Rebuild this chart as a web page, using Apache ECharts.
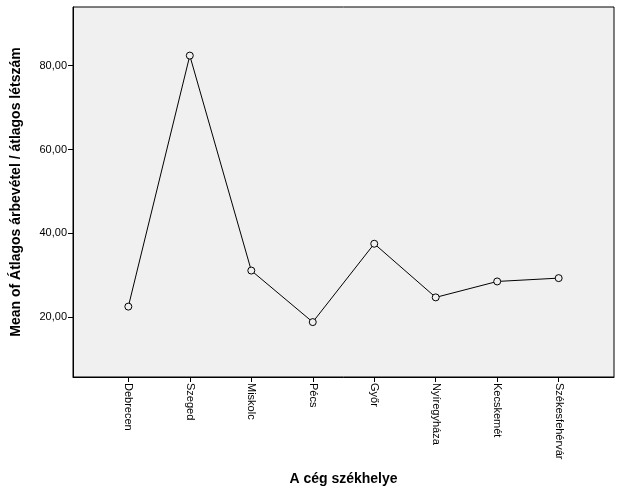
<!DOCTYPE html>
<html><head><meta charset="utf-8">
<script src="https://cdn.jsdelivr.net/npm/echarts@6/dist/echarts.min.js"></script>
<style>html,body{margin:0;padding:0;background:#fff}#c{width:626px;height:501px}</style>
</head><body><div id="c"></div>
<script>
const categories = ["Debrecen","Szeged","Miskolc","Pécs","Győr","Nyíregyháza","Kecskemét","Székesfehérvár"];
const values = [22.5, 82.4, 31.1, 18.8, 37.5, 24.7, 28.5, 29.3];
const yTicks = [20, 40, 60, 80];
const idx = categories.map((c,i)=>i);
const chart = echarts.init(document.getElementById('c'));
const font = 'Liberation Sans, Arial, sans-serif';
chart.setOption({
  animation:false,
  grid:{left:73,right:12,top:7,bottom:124,show:true,backgroundColor:'#f0f0f0',borderColor:'#000',borderWidth:1},
  xAxis:{type:'value',min:-0.9,max:7.9,
    name:'A cég székhelye',nameLocation:'middle',nameGap:95,
    nameTextStyle:{fontFamily:font,fontSize:14,fontWeight:'bold',color:'#000'},
    axisLine:{show:true,onZero:false,lineStyle:{color:'#000'}},
    axisTick:{show:true,inside:false,length:5,customValues:idx,lineStyle:{color:'#000'}},
    splitLine:{show:false},
    axisLabel:{customValues:idx,rotate:-90,margin:6,fontFamily:font,fontSize:11,color:'#000',
      formatter:v=>categories[Math.round(v)]}
  },
  yAxis:{type:'value',min:5.7,max:94,
    name:'Mean of Átlagos árbevétel / átlagos létszám',nameLocation:'middle',nameGap:50,
    nameTextStyle:{fontFamily:font,fontSize:14,fontWeight:'bold',color:'#000'},
    axisLine:{show:true,onZero:false,lineStyle:{color:'#000'}},
    axisTick:{show:true,length:5,customValues:yTicks,lineStyle:{color:'#000'}},
    splitLine:{show:false},
    axisLabel:{customValues:yTicks,fontFamily:font,fontSize:11,color:'#000',margin:6,
      formatter:v=>v.toFixed(2).replace('.',',')}
  },
  series:[{type:'line',data:values.map((v,i)=>[i,v]),symbol:'circle',symbolSize:7,
    lineStyle:{color:'#000',width:1},
    itemStyle:{color:'#f0f0f0',borderColor:'#000',borderWidth:1}}]
});
</script></body></html>
